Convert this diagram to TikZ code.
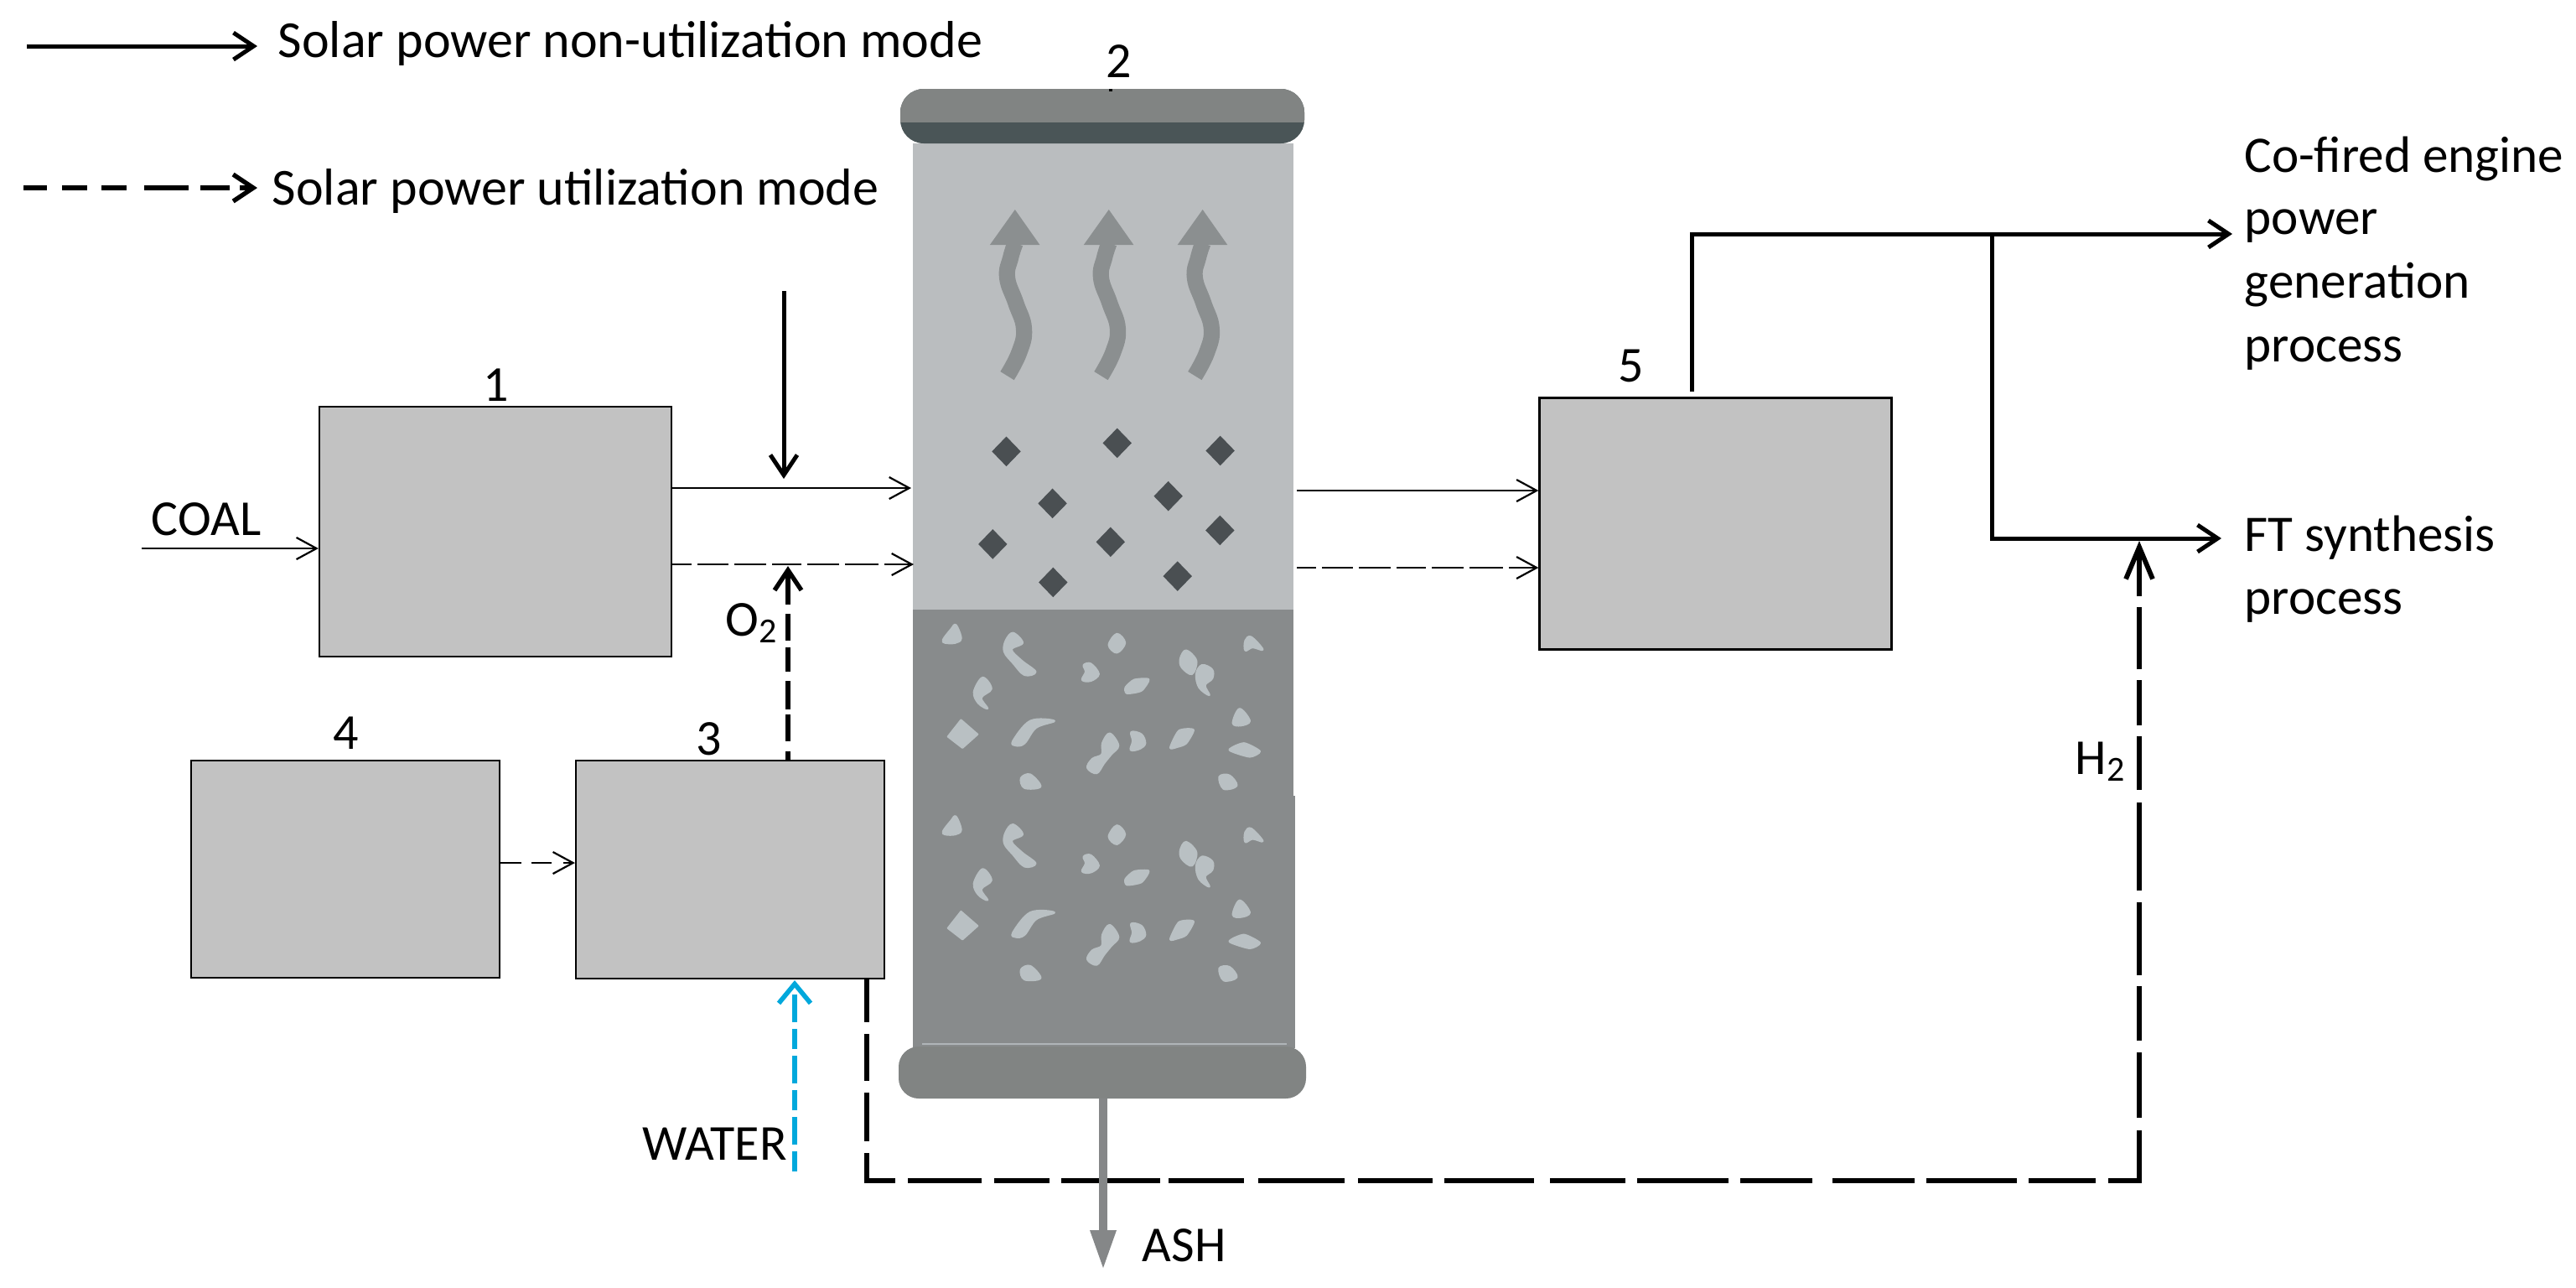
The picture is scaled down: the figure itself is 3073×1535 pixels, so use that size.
\documentclass[tikz,border=0pt]{standalone}
\usepackage{fontspec}
\setmainfont{Carlito}
\usetikzlibrary{arrows.meta}
\definecolor{boxgray}{HTML}{C2C2C2}
\definecolor{gaszone}{HTML}{BABDBF}
\definecolor{bedzone}{HTML}{888B8C}
\definecolor{capgray}{HTML}{818483}
\definecolor{capdark}{HTML}{4A5557}
\definecolor{swirl}{HTML}{8B8F90}
\definecolor{particle}{HTML}{4A4F52}
\definecolor{flake}{HTML}{B9C0C3}
\definecolor{ashgray}{HTML}{858788}
\definecolor{waterblue}{HTML}{00A8DC}
\tikzset{
  x=0.25pt,y=-0.25pt,
  box/.style={draw=black,line width=0.55pt,fill=boxgray,inner sep=0pt},
  lab/.style={font=\fontsize{15}{18.75}\selectfont,inner sep=0pt,text=black},
  legendlab/.style={lab,font=\fontsize{15.5}{18.75}\selectfont},
  sidelab/.style={lab,font=\fontsize{15.3}{18.75}\selectfont},
  thin head/.style={-{Straight Barb[length=6pt,width=6.5pt]}},
  bold head/.style={-{Straight Barb[length=6pt,width=8pt]}},
  thinline/.style={line width=0.55pt,black,thin head},
  thindash/.style={thinline,dash pattern=on 5.75pt off 1.75pt on 9.25pt off 1.75pt on 9.5pt off 1.75pt on 8.75pt off 1.75pt on 9.5pt off 1.75pt on 10pt off 1.75pt on 9pt off 1.75pt},
  boldline/.style={line width=1.25pt,black},
  fl/.style={fill=flake,draw=flake,line width=0.6pt,line join=round},
}
\begin{document}
\begin{tikzpicture}
\useasboundingbox (0,0) rectangle (3073,1535);
\fill[white] (0,0) rectangle (3073,1535);
% ----- reactor vessel
\fill[gaszone] (1089,171) rectangle (1543,727);
\fill[bedzone] (1089,727) rectangle (1543,950);
\fill[bedzone] (1089,949) rectangle (1545,1250);
\fill[capdark,rounded corners=7pt] (1074,106) rectangle (1556,171);
\begin{scope}
  \clip (1060,100) rectangle (1570,145);
  \fill[capgray,rounded corners=7pt] (1074,106) rectangle (1556,171);
\end{scope}
\draw[black,line width=0.9pt] (1325,106) -- (1325,109);
\fill[capgray,rounded corners=6pt] (1072,1248) rectangle (1558,1310);
\draw[flake!80!bedzone,line width=0.5pt] (1100,1245) -- (1535,1245);
% rising gas arrows
\begin{scope}[shift={(1050,60)},x=0.08609pt,y=-0.10841pt]
  \foreach \dx in {0,325,650}{
    \begin{scope}[xshift=\dx*0.08609pt]
    \draw[swirl,line width=4.8pt] plot[smooth,tension=0.75] coordinates {(440,895) (482,830) (498,765) (470,695) (440,625) (452,570) (468,530)};
    \fill[swirl] (380,535) -- (467,438) -- (553,535) -- cycle;
    \end{scope}
  }
  \foreach \cx/\cy in {437/1103,821/1080,1178/1101,597/1246,998/1226,1177/1320,390/1358,798/1352,599/1463,1030/1446}{
    \fill[particle] (\cx-50,\cy) -- (\cx,\cy-41) -- (\cx+50,\cy) -- (\cx,\cy+41) -- cycle;
  }
\end{scope}
% ash flakes (two identical layers)
\foreach \dy in {0,429}{
\begin{scope}[shift={(1050,700)},yshift=-\dy*0.13312pt,x=0.08609pt,y=-0.13312pt]
  \filldraw[fl] plot[smooth cycle,tension=0.6] coordinates {(218,118)(245,95)(262,85)(280,115)(260,125)(225,125)};
  \filldraw[fl] plot[smooth cycle,tension=0.6] coordinates {(460,103)(493,125)(455,140)(490,165)(538,190)(500,197)(460,170)(430,145)(435,120)};
  \filldraw[fl] plot[smooth cycle,tension=0.6] coordinates {(820,105)(848,125)(820,147)(792,130)};
  \filldraw[fl] plot[smooth cycle,tension=0.6] coordinates {(1265,120)(1285,112)(1325,140)(1290,135)(1265,142)};
  \filldraw[fl] plot[smooth cycle,tension=0.6] coordinates {(705,175)(730,172)(757,195)(730,210)(700,208)(712,190)};
  \filldraw[fl] plot[smooth cycle,tension=0.4] coordinates {(850,225)(880,208)(930,207)(905,232)(855,238)};
  \filldraw[fl] plot[smooth cycle,tension=0.6] coordinates {(1040,160)(1060,142)(1095,165)(1080,195)(1045,180)};
  \filldraw[fl] plot[smooth cycle,tension=0.6] coordinates {(1115,175)(1150,185)(1150,205)(1125,220)(1140,242)(1105,225)(1095,195)};
  \filldraw[fl] plot[smooth cycle,tension=0.6] coordinates {(355,203)(385,228)(350,248)(372,272)(340,260)(325,235)};
  \filldraw[fl] (235,335) -- (280,298) -- (337,330) -- (285,360) -- cycle;
  \filldraw[fl] plot[smooth cycle,tension=0.6] coordinates {(460,345)(520,300)(603,300)(540,315)(500,350)(470,355)};
  \filldraw[fl] plot[smooth cycle,tension=0.6] coordinates {(770,350)(795,328)(825,355)(800,375)(775,395)(750,417)(718,405)(735,385)(768,375)};
  \filldraw[fl] plot[smooth cycle,tension=0.6] coordinates {(870,325)(905,330)(918,350)(900,362)(868,365)(875,345)};
  \filldraw[fl] plot[smooth cycle,tension=0.4] coordinates {(1005,360)(1035,322)(1085,320)(1060,350)(1030,358)};
  \filldraw[fl] plot[smooth cycle,tension=0.6] coordinates {(1245,273)(1280,300)(1250,310)(1222,305)};
  \filldraw[fl] plot[smooth cycle,tension=0.4] coordinates {(1210,365)(1260,350)(1315,368)(1280,380)};
  \filldraw[fl] plot[smooth cycle,tension=0.6] coordinates {(488,428)(520,420)(555,447)(500,450)};
  \filldraw[fl] plot[smooth cycle,tension=0.6] coordinates {(1175,425)(1210,422)(1235,445)(1190,452)};
\end{scope}
}
% ----- boxes
\node[box,minimum width=105pt,minimum height=74.5pt] (b1) at (591,634) {};
\node[box,minimum width=92pt,minimum height=64.75pt] (b4) at (412,1036.5) {};
\node[box,minimum width=92pt,minimum height=65pt] (b3) at (871,1037) {};
\node[box,minimum width=105pt,minimum height=75pt] (b5) at (2046.5,624.5) {};
% ----- named junctions
\coordinate (ashend) at (1316,1467);
\coordinate (ashtip) at (1316,1512);
\coordinate (coalin) at (169,654);
\coordinate (in1) at (1087,582);
\coordinate (in2) at (1090,673);
\coordinate (out1) at (1547,585);
\coordinate (out2) at (1547,677);
\coordinate (line43) at (596,1029);
\coordinate (o2top) at (940,675);
\coordinate (sunin) at (935,347);
\coordinate (suntip) at (935,571);
\coordinate (wsrc) at (948,1397);
\coordinate (wtip) at (948,1169);
\coordinate (cofire) at (2663,279);
\coordinate (cobend) at (2018,279);
\coordinate (b5out) at (2018,467);
\coordinate (ftbr) at (2376,279);
\coordinate (ftbend) at (2376,642);
\coordinate (ftend) at (2650,642);
\coordinate (h2s) at (1034,1167);
\coordinate (bend1) at (1034,1408);
\coordinate (bend2) at (2552,1408);
\coordinate (h2tip) at (2552,645);
\coordinate (l1s) at (32,55);
\coordinate (l1e) at (307,55);
\coordinate (l2s) at (28,224);
\coordinate (l2e) at (307,224);
% ----- connectors
\draw[thinline] (coalin) -- (coalin -| b1.west);
\draw[thinline] (b1.east |- in1) -- (in1);
\draw[thindash] (b1.east |- in2) -- (in2);
\draw[thinline] (out1) -- (b5.west |- out1);
\draw[thindash] (out2) -- (b5.west |- out2);
\draw[thinline,dash pattern=on 6.5pt off 3pt on 6pt off 3.5pt on 8pt off 3pt] (line43) -- (b3.west |- line43);
\draw[boldline,bold head] (sunin) -- (suntip);
\draw[line width=1.35pt,black,bold head,dash pattern=on 2.5pt off 3pt on 8pt off 1.5pt on 8.5pt off 2.75pt on 7.25pt off 2pt on 8pt off 2.75pt on 15pt off 2pt] (o2top |- b3.north) -- (o2top);
\draw[line width=1.4pt,waterblue,-{Straight Barb[length=5.75pt,width=9.5pt]},dash pattern=on 6pt off 2pt on 8.25pt off 2pt] (wsrc) -- (wtip);
\draw[boldline,bold head] (b5out) -- (cobend) -- (cofire);
\draw[boldline,bold head] (ftbr) -- (ftbend) -- (ftend);
\draw[line width=1.45pt,black,line join=miter,-{Straight Barb[length=9.5pt,width=8pt]},dash pattern=on 13pt off 3.5pt on 14pt off 3.5pt on 14.5pt off 3.5pt on 16.75pt off 3.75pt on 22pt off 3.75pt on 16.5pt off 3.5pt on 29.5pt off 2.5pt on 22.5pt off 4.25pt on 25.75pt off 4pt on 22.25pt off 3.5pt on 26.75pt off 4.75pt on 22.5pt off 3.5pt on 27.25pt off 3.5pt on 21.5pt off 6pt on 24.5pt off 3.5pt on 27pt off 3.5pt on 20pt off 3.75pt on 24.25pt off 3.75pt on 19.5pt off 3.5pt on 16.25pt off 3.25pt on 21.75pt off 3.5pt on 26.25pt off 3.75pt on 16pt off 3.25pt on 13.5pt off 3.25pt on 18.5pt off 3.25pt on 16.25pt off 20pt] (h2s) -- (bend1) -- (bend2) -- (h2tip);
\draw[boldline,bold head] (l1s) -- (l1e);
\draw[line width=1.35pt,black,bold head,dash pattern=on 7pt off 4.5pt on 7.5pt off 4.25pt on 7.5pt off 5.25pt on 13.25pt off 3.5pt on 8.75pt off 3pt] (l2s) -- (l2e);
% ----- ash outlet (passes over the H2 line)
\fill[ashgray] (1311,1310) rectangle (1321,1470);
\fill[ashgray] (ashend) ++(-16,0) -- (ashtip) -- ++(16,-45) -- cycle;
% ----- labels
\node[legendlab,anchor=base west] (tl1) at (331,68) {Solar power non-utilization mode};
\node[legendlab,anchor=base west] (tl2) at (324,244) {Solar power utilization mode};
\node[lab,anchor=base] (n1) at (592,478) {1};
\node[lab,anchor=base] (n2) at (1335,92) {2};
\node[lab,anchor=base] (n3) at (846,900) {3};
\node[lab,anchor=base] (n4) at (413,893) {4};
\node[lab,anchor=base] (n5) at (1946,455) {5};
\node[lab,anchor=base west] (tcoal) at (180,638) {COAL};
\node[lab,anchor=base west] (to2) at (865,758) {O\textsubscript{2}};
\node[lab,anchor=base west] (th2) at (2475,923) {H\textsubscript{2}};
\node[lab,anchor=base west] (twater) at (766,1383) {WATER};
\node[lab,anchor=base west] (tash) at (1362,1504) {ASH};
\node[sidelab,anchor=base west] (t1a) at (2677,205) {Co-fired engine};
\node[sidelab,anchor=base west] (t1b) at (2677,279) {power};
\node[sidelab,anchor=base west] (t1c) at (2677,355) {generation};
\node[sidelab,anchor=base west] (t1d) at (2677,431) {process};
\node[sidelab,anchor=base west] (t2a) at (2677,657) {FT synthesis};
\node[sidelab,anchor=base west] (t2b) at (2677,732) {process};
\end{tikzpicture}
\end{document}
